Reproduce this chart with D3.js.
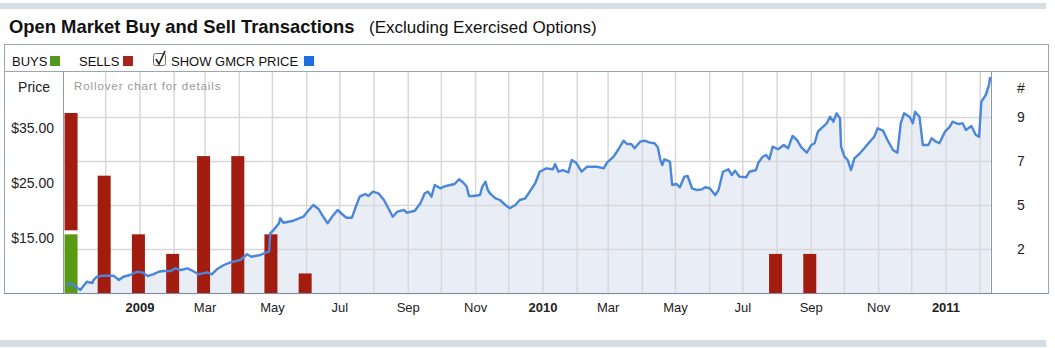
<!DOCTYPE html>
<html><head><meta charset="utf-8">
<script src="https://cdn.jsdelivr.net/npm/d3@7"></script>
<style>
html,body{margin:0;padding:0;background:#fff;}
svg{display:block;font-family:"Liberation Sans",Arial,Helvetica,sans-serif;}
</style></head>
<body>
<svg id="chart" width="1055" height="348"></svg>
<script>
// ---------- DATA ----------
const titleText = "Open Market Buy and Sell Transactions";
const subtitleText = "(Excluding Exercised Options)";
const barMonths = ["2008-11-01","2008-12-01","2009-01-01","2009-02-01","2009-03-01","2009-04-01","2009-05-01","2009-06-01","2010-08-01","2010-09-01"];
const buyCounts  = [3,0,0,0,0,0,0,0,0,0];
const sellCounts = [6,6,3,2,7,7,3,1,2,2];
const priceTicks = [15,25,35];
const countTicks = [2.25,4.5,6.75,9];
const xTickDates = ["2009-01-01","2009-03-01","2009-05-01","2009-07-01","2009-09-01","2009-11-01","2010-01-01","2010-03-01","2010-05-01","2010-07-01","2010-09-01","2010-11-01","2011-01-01"];
const xTickLabels = ["2009","Mar","May","Jul","Sep","Nov","2010","Mar","May","Jul","Sep","Nov","2011"];
const priceDates = ["2008-10-26","2008-10-30","2008-11-04","2008-11-08","2008-11-11","2008-11-14","2008-11-19","2008-11-20","2008-11-23","2008-11-29",
"2008-12-08","2008-12-13","2008-12-17","2008-12-23","2008-12-29","2009-01-03","2009-01-08","2009-01-13","2009-01-18","2009-01-22",
"2009-01-29","2009-02-02","2009-02-07","2009-02-13","2009-02-18","2009-02-23","2009-03-03","2009-03-07","2009-03-12","2009-03-18",
"2009-03-24","2009-04-02","2009-04-08","2009-04-12","2009-04-20","2009-04-25","2009-04-28","2009-04-29","2009-05-02","2009-05-07",
"2009-05-08","2009-05-11","2009-05-20","2009-05-29","2009-06-03","2009-06-07","2009-06-12","2009-06-15","2009-06-20","2009-06-24",
"2009-06-29","2009-07-04","2009-07-07","2009-07-12","2009-07-15","2009-07-19","2009-07-24","2009-07-27","2009-07-31","2009-08-05",
"2009-08-10","2009-08-14","2009-08-18","2009-08-22","2009-08-28","2009-08-31","2009-09-07","2009-09-12","2009-09-16","2009-09-19",
"2009-09-22","2009-09-25","2009-09-30","2009-10-04","2009-10-09","2009-10-13","2009-10-17","2009-10-21","2009-10-24","2009-10-26",
"2009-10-30","2009-11-05","2009-11-07","2009-11-10","2009-11-12","2009-11-14","2009-11-19","2009-11-23","2009-11-28","2009-12-02",
"2009-12-07","2009-12-11","2009-12-16","2009-12-20","2009-12-25","2009-12-29","2010-01-04","2010-01-10","2010-01-12","2010-01-15",
"2010-01-19","2010-01-24","2010-01-27","2010-01-31","2010-02-05","2010-02-10","2010-02-19","2010-02-25","2010-02-28","2010-03-06",
"2010-03-10","2010-03-15","2010-03-18","2010-03-22","2010-03-25","2010-03-30","2010-04-03","2010-04-08","2010-04-12","2010-04-15",
"2010-04-17","2010-04-19","2010-04-21","2010-04-26","2010-04-28","2010-05-02","2010-05-05","2010-05-09","2010-05-12","2010-05-16",
"2010-05-20","2010-05-25","2010-05-28","2010-06-01","2010-06-06","2010-06-09","2010-06-13","2010-06-18","2010-06-21","2010-06-24",
"2010-06-28","2010-07-04","2010-07-07","2010-07-13","2010-07-15","2010-07-19","2010-07-22","2010-07-25","2010-07-28","2010-08-02",
"2010-08-07","2010-08-11","2010-08-15","2010-08-19","2010-08-23","2010-08-28","2010-09-01","2010-09-04","2010-09-07","2010-09-10",
"2010-09-15","2010-09-18","2010-09-21","2010-09-24","2010-09-27","2010-09-28","2010-10-01","2010-10-04","2010-10-07","2010-10-10",
"2010-10-15","2010-10-19","2010-10-24","2010-10-28","2010-10-31","2010-11-05","2010-11-09","2010-11-14","2010-11-18","2010-11-21",
"2010-11-24","2010-11-29","2010-12-02","2010-12-04","2010-12-08","2010-12-11","2010-12-16","2010-12-19","2010-12-23","2010-12-26",
"2010-12-31","2011-01-04","2011-01-07","2011-01-12","2011-01-16","2011-01-19","2011-01-24","2011-01-28","2011-01-31","2011-02-02",
"2011-02-06","2011-02-09","2011-02-10"];
const priceValues = [6.45,6.76,6.15,5.55,6.33,7.05,6.82,7.36,7.96,8.15,
8.15,7.36,7.96,8.27,8.87,8.76,8.09,8.40,8.87,9.00,
9.00,9.49,9.18,9.49,9.00,8.40,8.76,8.40,9.36,10.09,
10.58,11.00,12.04,11.60,11.91,12.33,12.51,15.85,16.45,17.67,
18.58,17.78,18.14,18.87,20.09,21.00,20.22,19.18,17.67,18.87,
20.09,19.18,18.69,18.69,20.40,22.51,23.00,22.64,23.42,23.13,
21.91,20.40,18.87,19.78,20.09,19.60,19.96,21.31,23.13,23.42,
22.51,24.64,24.04,24.38,24.64,24.82,25.67,25.05,24.33,22.64,
22.64,22.82,24.33,25.24,23.73,23.13,22.22,21.91,21.00,20.40,
21.00,21.91,22.22,23.42,24.95,27.05,27.67,27.49,28.45,27.05,
27.36,26.94,29.18,28.69,27.05,27.96,27.96,27.67,28.69,29.78,
31.00,32.69,32.09,32.09,31.31,32.51,32.69,32.33,32.22,31.49,
29.49,28.27,29.31,28.87,24.64,24.82,24.22,26.15,26.27,24.04,
23.73,23.85,24.22,24.04,22.82,23.73,27.05,27.49,26.45,27.24,
26.15,26.04,27.05,27.36,28.69,29.78,30.09,29.31,31.60,31.13,
31.91,31.31,33.55,32.82,31.49,30.51,31.91,32.22,34.33,34.94,
35.85,37.05,36.15,37.67,36.76,31.60,29.78,29.18,27.36,29.49,
30.40,31.31,32.51,33.42,34.94,34.51,32.82,31.00,30.51,35.85,
37.67,37.05,35.85,37.96,37.05,31.91,31.91,33.13,32.51,32.22,
34.33,35.13,36.15,35.73,35.85,34.64,35.36,33.73,33.42,39.78,
41.00,42.82,44.27];

// ---------- LAYOUT ----------
const svg = d3.select("#chart");
const plot = {left:64, right:991, top:71, bottom:293};
const boxL = 4, boxR = 1048, boxT = 44;
const parse = d3.utcParse("%Y-%m-%d");

const x = d3.scaleUtc()
  .domain([new Date(Date.UTC(2008,9,24,6)), new Date(Date.UTC(2011,1,10,18))])
  .range([plot.left, plot.right]);
const yPrice = d3.scaleLinear().domain([5,45]).range([plot.bottom, plot.top+2]);
const yCount = d3.scaleLinear().domain([0,11.25]).range([plot.bottom, plot.top+2]);

// top & bottom bands
svg.append("rect").attr("x",0).attr("y",3).attr("width",1046).attr("height",6).attr("fill","#d5dde5");
svg.append("rect").attr("x",0).attr("y",340).attr("width",1046).attr("height",7).attr("fill","#d5dde5");

// title
svg.append("text").attr("x",9).attr("y",33).attr("font-size",18.4).attr("font-weight","bold")
  .attr("fill","#111").text(titleText);
svg.append("text").attr("x",369).attr("y",33).attr("font-size",17).attr("fill","#111").text(subtitleText);

// box
svg.append("rect").attr("x",boxL+0.5).attr("y",boxT+0.5).attr("width",boxR-boxL).attr("height",plot.bottom-boxT)
  .attr("fill","#fff").attr("stroke","#9aa6b4");
svg.append("line").attr("x1",boxL).attr("x2",boxR).attr("y1",plot.top+0.5).attr("y2",plot.top+0.5).attr("stroke","#9aa6b4");

// legend
const lg = svg.append("g").attr("font-size",13).attr("fill","#111");
lg.append("text").attr("x",12).attr("y",66).text("BUYS");
lg.append("rect").attr("x",50).attr("y",56).attr("width",10).attr("height",10).attr("fill","#4f9a1e");
lg.append("text").attr("x",79).attr("y",66).text("SELLS");
lg.append("rect").attr("x",123).attr("y",56).attr("width",10).attr("height",10).attr("fill","#a8231b");
lg.append("rect").attr("x",153.5).attr("y",53.5).attr("width",12).attr("height",12).attr("rx",2)
  .attr("fill","#fff").attr("stroke","#707070");
lg.append("path").attr("d","M156,59 L159,64 L165,51").attr("fill","none").attr("stroke","#222").attr("stroke-width",1.6);
lg.append("text").attr("x",171).attr("y",66).text("SHOW GMCR PRICE");
lg.append("rect").attr("x",304).attr("y",56).attr("width",10).attr("height",10).attr("fill","#1c6fe3");

// area fill
const pts = priceDates.map((d,i)=>({date:parse(d), v:priceValues[i]}));
svg.append("path").datum(pts)
  .attr("d", d3.area().x(d=>x(d.date)).y0(plot.bottom).y1(d=>yPrice(d.v)))
  .attr("fill","#e9eef6");

// gridlines
const grid = svg.append("g").attr("stroke","#d8d8d8").attr("stroke-width",1.5);
const months = d3.utcMonth.range(new Date(Date.UTC(2008,11,1)), x.domain()[1]);
grid.selectAll("line.v").data(months).join("line")
  .attr("x1",d=>x(d)).attr("x2",d=>x(d)).attr("y1",plot.top+1).attr("y2",plot.bottom);
grid.selectAll("line.h").data([0,2.25,4.5,6.75,9]).join("line")
  .attr("x1",plot.left).attr("x2",plot.right).attr("y1",d=>Math.round(yCount(d))+0.5).attr("y2",d=>Math.round(yCount(d))+0.5);

// bars
const bw = 13;
const bars = barMonths.map((m,i)=>({date:parse(m), b:buyCounts[i], s:sellCounts[i]}));
const bg = svg.append("g");
bars.forEach(d=>{
  const cx = x(d.date) - 1.5;
  if (d.b>0) {
    bg.append("rect").attr("x",cx-bw/2).attr("width",bw)
      .attr("y",yCount(d.b)).attr("height",yCount(0)-yCount(d.b)).attr("fill","#5a9a12");
  }
  if (d.s>0) {
    const gap = d.b>0 ? 4 : 0;
    bg.append("rect").attr("x",cx-bw/2).attr("width",bw)
      .attr("y",yCount(d.b+d.s)-gap).attr("height",yCount(d.b)-yCount(d.b+d.s)).attr("fill","#a31c10");
  }
});

// price line
svg.append("path").datum(pts)
  .attr("d", d3.line().x(d=>x(d.date)).y(d=>yPrice(d.v)))
  .attr("fill","none").attr("stroke","#4a86da").attr("stroke-width",2.4).attr("stroke-linejoin","round");

// axis lines
const ax = svg.append("g").attr("stroke","#8a98aa");
ax.append("line").attr("x1",plot.left-0.5).attr("x2",plot.left-0.5).attr("y1",plot.top).attr("y2",plot.bottom);
ax.append("line").attr("x1",plot.right+0.5).attr("x2",plot.right+0.5).attr("y1",plot.top).attr("y2",plot.bottom);
ax.append("line").attr("x1",boxL).attr("x2",boxR+1).attr("y1",plot.bottom+0.5).attr("y2",plot.bottom+0.5).attr("stroke","#7f8fa3");

// left axis labels
const la = svg.append("g").attr("font-size",14).attr("fill","#222");
la.append("text").attr("x",34).attr("y",92).attr("text-anchor","middle").text("Price");
la.selectAll("text.p").data(priceTicks).join("text")
  .attr("x",54).attr("y",d=>yPrice(d)+5).attr("text-anchor","end")
  .text(d=>"$"+d3.format(".2f")(d));

// rollover text
svg.append("text").attr("x",74).attr("y",90).attr("font-size",11.5).attr("letter-spacing","0.9px")
  .attr("fill","#999").text("Rollover chart for details");

// right axis labels
const ra = svg.append("g").attr("font-size",14).attr("fill","#222").attr("text-anchor","middle");
ra.append("text").attr("x",1021).attr("y",93).text("#");
ra.selectAll("text.c").data(countTicks).join("text")
  .attr("x",1021).attr("y",d=>yCount(d)+5).text(d=>Math.round(d));

// x axis labels
const xa = svg.append("g").attr("font-size",13).attr("fill","#222").attr("text-anchor","middle");
xa.selectAll("text").data(xTickDates.map((d,i)=>({date:parse(d), label:xTickLabels[i]}))).join("text")
  .attr("x",d=>x(d.date)).attr("y",312)
  .attr("font-weight",d=>/^\d+$/.test(d.label)?"bold":"normal")
  .text(d=>d.label);
</script>
</body></html>
